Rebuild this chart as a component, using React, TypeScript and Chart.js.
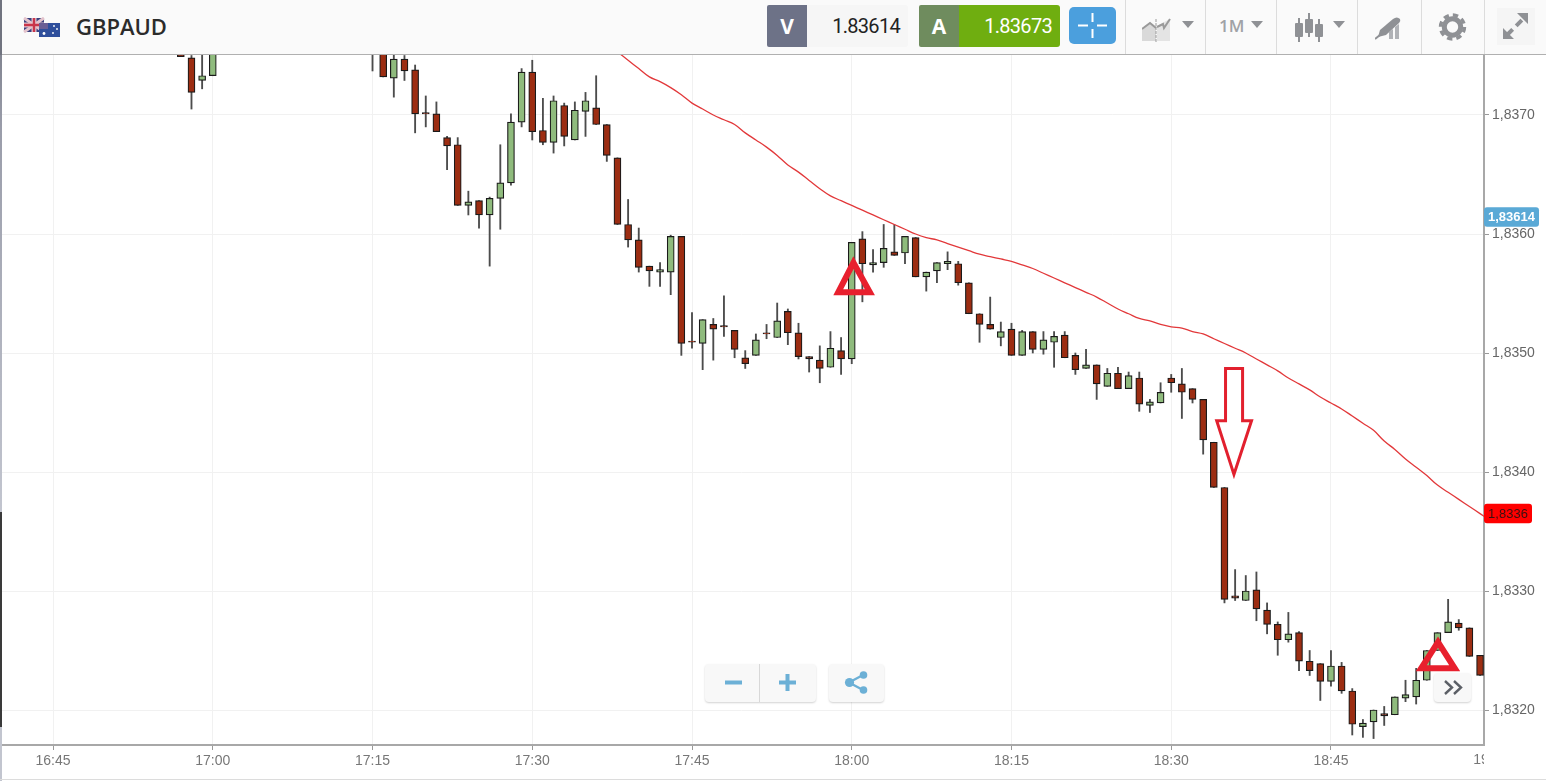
import React, { useEffect, useRef } from "react";
import { Chart, registerables } from "chart.js";

Chart.register(...registerables);

const candleTimes = [
  "16:57","16:58","16:59","17:00",
  "17:15","17:16","17:17","17:18","17:19","17:20","17:21","17:22","17:23","17:24","17:25","17:26","17:27","17:28","17:29",
  "17:30","17:31","17:32","17:33","17:34","17:35","17:36","17:37","17:38","17:39","17:40","17:41","17:42","17:43","17:44",
  "17:45","17:46","17:47","17:48","17:49","17:50","17:51","17:52","17:53","17:54","17:55","17:56","17:57","17:58","17:59",
  "18:00","18:01","18:02","18:03","18:04","18:05","18:06","18:07","18:08","18:09","18:10","18:11","18:12","18:13","18:14",
  "18:15","18:16","18:17","18:18","18:19","18:20","18:21","18:22","18:23","18:24","18:25","18:26","18:27","18:28","18:29",
  "18:30","18:31","18:32","18:33","18:34","18:35","18:36","18:37","18:38","18:39","18:40","18:41","18:42","18:43","18:44",
  "18:45","18:46","18:47","18:48","18:49","18:50","18:51","18:52","18:53","18:54","18:55","18:56","18:57","18:58","18:59",
];

const opens = [
  1.83763,1.83748,1.83729,1.83733,
  1.83771,1.83763,1.83731,1.83747,1.83738,1.83702,1.83701,1.83681,1.83675,1.83624,1.83628,1.83616,1.83630,1.83643,1.83694,
  1.83736,1.83687,1.83677,1.83708,1.83679,1.83703,1.83706,1.83692,1.83664,1.83608,1.83595,1.83573,1.83568,1.83568,1.83598,
  1.83510,1.83508,1.83524,1.83523,1.83519,1.83496,1.83498,1.83517,1.83513,1.83535,1.83517,1.83497,1.83494,1.83488,1.83502,
  1.83495,1.83596,1.83574,1.83576,1.83585,1.83584,1.83597,1.83564,1.83569,1.83575,1.83575,1.83559,1.83533,1.83524,1.83513,
  1.83520,1.83498,1.83518,1.83503,1.83509,1.83515,1.83498,1.83487,1.83490,1.83472,1.83483,1.83470,1.83479,1.83456,1.83458,
  1.83479,1.83474,1.83470,1.83461,1.83425,1.83387,1.83296,1.83292,1.83301,1.83284,1.83272,1.83259,1.83265,1.83241,1.83239,
  1.83224,1.83237,1.83216,1.83186,1.83190,1.83197,1.83196,1.83210,1.83211,1.83225,1.83250,1.83265,1.83273,1.83269,1.83246,
];
const closes = [
  1.83749,1.83719,1.83733,1.83763,
  1.83755,1.83732,1.83747,1.83737,1.83701,1.83701,1.83686,1.83674,1.83624,1.83627,1.83616,1.83630,1.83643,1.83694,1.83736,
  1.83686,1.83677,1.83712,1.83682,1.83704,1.83712,1.83692,1.83666,1.83608,1.83595,1.83572,1.83569,1.83570,1.83598,1.83508,
  1.83509,1.83528,1.83520,1.83522,1.83503,1.83491,1.83511,1.83516,1.83527,1.83517,1.83497,1.83495,1.83487,1.83504,1.83495,
  1.83593,1.83575,1.83576,1.83588,1.83582,1.83598,1.83564,1.83568,1.83576,1.83577,1.83559,1.83533,1.83524,1.83520,1.83518,
  1.83498,1.83518,1.83503,1.83511,1.83514,1.83496,1.83486,1.83490,1.83474,1.83483,1.83470,1.83481,1.83457,1.83459,1.83467,
  1.83475,1.83467,1.83461,1.83427,1.83387,1.83293,1.83294,1.83300,1.83285,1.83272,1.83259,1.83264,1.83241,1.83233,1.83224,
  1.83237,1.83216,1.83188,1.83189,1.83200,1.83195,1.83211,1.83213,1.83225,1.83250,1.83265,1.83274,1.83269,1.83245,1.83229,
];
const highs = [
  1.83767,1.83750,1.83755,1.83768,
  1.83775,1.83767,1.83755,1.83750,1.83742,1.83716,1.83711,1.83682,1.83681,1.83636,1.83628,1.83631,1.83675,1.83701,1.83739,
  1.83746,1.83714,1.83716,1.83710,1.83711,1.83719,1.83733,1.83692,1.83664,1.83629,1.83605,1.83573,1.83576,1.83599,1.83598,
  1.83534,1.83528,1.83529,1.83548,1.83519,1.83502,1.83516,1.83524,1.83542,1.83537,1.83525,1.83497,1.83506,1.83518,1.83513,
  1.83593,1.83602,1.83587,1.83608,1.83608,1.83598,1.83597,1.83568,1.83576,1.83585,1.83577,1.83559,1.83533,1.83547,1.83526,
  1.83525,1.83519,1.83518,1.83518,1.83518,1.83518,1.83500,1.83503,1.83490,1.83487,1.83488,1.83484,1.83484,1.83461,1.83475,
  1.83482,1.83487,1.83470,1.83461,1.83425,1.83387,1.83318,1.83313,1.83316,1.83290,1.83274,1.83282,1.83266,1.83250,1.83239,
  1.83250,1.83240,1.83218,1.83192,1.83200,1.83203,1.83211,1.83225,1.83235,1.83250,1.83265,1.83293,1.83276,1.83269,1.83246,
];
const lows = [
  1.83749,1.83705,1.83722,1.83733,
  1.83737,1.83732,1.83715,1.83729,1.83685,1.83690,1.83686,1.83654,1.83624,1.83616,1.83605,1.83573,1.83604,1.83641,1.83690,
  1.83679,1.83675,1.83668,1.83674,1.83679,1.83682,1.83692,1.83661,1.83608,1.83589,1.83568,1.83556,1.83556,1.83549,1.83498,
  1.83504,1.83486,1.83494,1.83514,1.83496,1.83487,1.83498,1.83512,1.83513,1.83507,1.83495,1.83484,1.83475,1.83488,1.83482,
  1.83491,1.83543,1.83568,1.83572,1.83582,1.83575,1.83564,1.83552,1.83559,1.83570,1.83557,1.83533,1.83509,1.83520,1.83506,
  1.83498,1.83498,1.83500,1.83499,1.83488,1.83496,1.83482,1.83487,1.83461,1.83472,1.83470,1.83470,1.83451,1.83450,1.83458,
  1.83467,1.83445,1.83458,1.83415,1.83387,1.83290,1.83292,1.83292,1.83275,1.83264,1.83246,1.83257,1.83233,1.83229,1.83208,
  1.83220,1.83214,1.83179,1.83177,1.83176,1.83187,1.83196,1.83207,1.83205,1.83225,1.83250,1.83265,1.83267,1.83245,1.83229,
];

// moving average: from 17:38 to 19:00
const maTimes = [...candleTimes.slice(27), "19:00"];
const maValues = [
  1.83753,1.83746,1.83739,1.83732,1.83728,1.83723,1.83717,
  1.83710,1.83705,1.83700,1.83696,1.83692,1.83685,1.83679,1.83673,1.83666,1.83658,1.83652,1.83645,1.83638,1.83632,1.83628,
  1.83624,1.83620,1.83616,1.83612,1.83608,1.83604,1.83600,1.83597,1.83595,1.83592,1.83589,1.83586,1.83583,1.83581,1.83579,
  1.83577,1.83574,1.83571,1.83567,1.83563,1.83559,1.83555,1.83551,1.83547,1.83542,1.83537,1.83533,1.83529,1.83527,1.83524,
  1.83522,1.83521,1.83518,1.83516,1.83512,1.83508,1.83504,1.83500,1.83495,1.83490,1.83485,1.83479,1.83474,1.83469,1.83463,
  1.83458,1.83453,1.83447,1.83441,1.83435,1.83426,1.83419,1.83411,1.83404,1.83397,1.83389,1.83383,1.83377,1.83371,1.83365,
  1.83359,
];

const xTickTimes = ["16:45","17:00","17:15","17:30","17:45","18:00","18:15","18:30","18:45"];
const clippedTickTime = "19:00";
const yTickValues = [1.832, 1.833, 1.834, 1.835, 1.836, 1.837];
const yTickLabels = ["1,8320","1,8330","1,8340","1,8350","1,8360","1,8370"];

const bidPrice = 1.83614;
const bidLabel = "1,83614";
const maLast = 1.83365;
const maLabel = "1,8336";

// annotations: minutes since midnight, prices
const tri1X = [1078.73, 1080.16, 1081.7, 1078.73, 1080.16];
const tri1Y = [1.83551, 1.83576, 1.83551, 1.83551, 1.83576];
const tri2X = [1133.47, 1135.05, 1136.62, 1133.47, 1135.05];
const tri2Y = [1.83235, 1.83257, 1.83235, 1.83235, 1.83257];
const arrowX = [1115.1, 1116.7, 1116.7, 1117.54, 1115.89, 1114.27, 1115.1, 1115.1, 1116.7];
const arrowY = [1.83487, 1.83487, 1.83443, 1.83443, 1.83398, 1.83443, 1.83443, 1.83487, 1.83487];

const toMin = (t: string) => {
  const [h, m] = t.split(":").map(Number);
  return h * 60 + m;
};

const FONT = "'Liberation Sans', Arial, sans-serif";

const overlayPlugin = {
  id: "overlayTags",
  afterDatasetsDraw(chart: any) {
    const { ctx, scales, chartArea } = chart;
    const x = scales.x;
    const y = scales.y;
    ctx.save();
    // clipped last time label
    ctx.save();
    ctx.beginPath();
    ctx.rect(chartArea.left, chartArea.bottom, chartArea.right - chartArea.left, 40);
    ctx.clip();
    ctx.font = "14px " + FONT;
    ctx.fillStyle = "#777";
    ctx.textAlign = "center";
    ctx.textBaseline = "top";
    ctx.fillText(clippedTickTime, x.getPixelForValue(toMin(clippedTickTime)), chartArea.bottom + 8);
    ctx.restore();

    const tag = (val: number, label: string, w: number, bg: string, fg: string, font: string) => {
      const py = y.getPixelForValue(val);
      ctx.fillStyle = bg;
      ctx.beginPath();
      ctx.roundRect(chartArea.right, py - 10, w, 19.5, 3);
      ctx.fill();
      ctx.fillStyle = fg;
      ctx.font = font;
      ctx.textAlign = "center";
      ctx.textBaseline = "middle";
      ctx.fillText(label, chartArea.right + w / 2, py + 0.5);
    };
    tag(bidPrice, bidLabel, 55, "#5aa9d6", "#fff", "bold 13px " + FONT);
    tag(maLast, maLabel, 48, "#ff0000", "#3a1010", "13px " + FONT);
    ctx.restore();
  },
};

const sep = (x: number) => (
  <div key={x} style={{ position: "absolute", left: x, top: 0, width: 1, height: 54, background: "#dcdcdc" }} />
);

const caret = (x: number, y = 21) => (
  <svg style={{ position: "absolute", left: x, top: y }} width="14" height="8">
    <path d="M1 0 L13 0 L7 7 Z" fill="#8f9195" />
  </svg>
);

function Header() {
  return (
    <div style={{ position: "absolute", left: 0, top: 0, width: 1546, height: 54, background: "#fafafa", borderBottom: "1px solid #b0b0b0", boxSizing: "content-box", fontFamily: "'Open Sans', sans-serif" }}>
      <svg style={{ position: "absolute", left: 23, top: 17 }} width="38" height="20">
        <rect x="1" y="1" width="20" height="14" fill="#39407f" />
        <path d="M1 1 L21 15 M21 1 L1 15" stroke="#e3c3cc" strokeWidth="3" />
        <path d="M11 1 V15 M1 8 H21" stroke="#e3c3cc" strokeWidth="5" />
        <path d="M11 1 V15 M1 8 H21" stroke="#c9354a" strokeWidth="2.4" />
        <rect x="16" y="6" width="21" height="14" fill="#2f4f9c" />
        <path d="M16 6 H25 V12 H16 Z" fill="#6a5f95" />
        <circle cx="21" cy="16.5" r="1.4" fill="#fff" />
        <circle cx="31" cy="9" r="0.9" fill="#fff" />
        <circle cx="34" cy="12" r="0.9" fill="#fff" />
        <circle cx="30" cy="16" r="0.9" fill="#fff" />
      </svg>
      <div style={{ position: "absolute", left: 76, top: 11, fontSize: 22, fontWeight: 600, lineHeight: "30px", color: "#2b2b2b" }}>GBPAUD</div>

      <div style={{ position: "absolute", left: 767, top: 5, width: 40, height: 42, background: "#6d7287", borderRadius: "2px 0 0 2px", color: "#fff", fontSize: 21, fontWeight: 700, lineHeight: "42px", textAlign: "center" }}>V</div>
      <div style={{ position: "absolute", left: 807, top: 5, width: 101, height: 42, background: "#f6f6f6", borderRadius: "0 3px 3px 0", color: "#222", fontFamily: "Roboto, sans-serif", fontSize: 20, letterSpacing: -0.7, lineHeight: "42px", textAlign: "right", paddingRight: 8, boxSizing: "border-box" }}>1.83614</div>

      <div style={{ position: "absolute", left: 919, top: 5, width: 40, height: 42, background: "#6f8c5e", borderRadius: "2px 0 0 2px", color: "#fff", fontSize: 21, fontWeight: 700, lineHeight: "42px", textAlign: "center" }}>A</div>
      <div style={{ position: "absolute", left: 959, top: 5, width: 101, height: 42, background: "#6fae10", borderRadius: "0 3px 3px 0", color: "#fff", fontFamily: "Roboto, sans-serif", fontSize: 20, letterSpacing: -0.7, lineHeight: "42px", textAlign: "right", paddingRight: 8, boxSizing: "border-box" }}>1.83673</div>

      <div style={{ position: "absolute", left: 1069, top: 7, width: 47, height: 37, background: "#4b9fdd", borderRadius: 5 }}>
        <svg width="47" height="37">
          <path d="M23.5 6 V15 M23.5 22 V31 M9 18.5 H19 M28 18.5 H38" stroke="#fff" strokeWidth="2" />
        </svg>
      </div>

      {[1125, 1205, 1276, 1357, 1421, 1484].map(sep)}

      <svg style={{ position: "absolute", left: 1142, top: 16 }} width="30" height="26">
        <path d="M0 25 V13 L8 6 L14 11 V25 Z" fill="#d9d9d9" />
        <path d="M15 25 V10 L22 6 L28 3 V25 Z" fill="#e4e4e4" />
        <path d="M0 13 L8 7 L14 12" stroke="#9a9a9a" strokeWidth="2" fill="none" />
        <path d="M15 11 L21 8 L22 12 L28 3" stroke="#9a9a9a" strokeWidth="2" fill="none" />
        <path d="M14 3 V26" stroke="#9a9a9a" strokeWidth="1" strokeDasharray="3 1" />
      </svg>
      {caret(1181)}
      <div style={{ position: "absolute", left: 1219, top: 12, fontSize: 17, fontWeight: 600, lineHeight: "28px", color: "#a0a2a6" }}>1M</div>
      {caret(1250)}
      <svg style={{ position: "absolute", left: 1293, top: 12 }} width="32" height="32">
        <g stroke="#8f9195" strokeWidth="2">
          <path d="M6 6 V30 M16 1 V25 M26 7 V30" />
        </g>
        <g fill="#8f9195">
          <rect x="2" y="11" width="8" height="14" rx="1" />
          <rect x="12" y="7" width="8" height="14" rx="1" />
          <rect x="22" y="12" width="8" height="13" rx="1" />
        </g>
      </svg>
      {caret(1332)}
      <svg style={{ position: "absolute", left: 1375, top: 16 }} width="29" height="24">
        <path d="M14 23 V16 L18 13 V23 Z M20 23 V11 L24 8 V23 Z" fill="#b0b2b6" />
        <path d="M5 14 L18 3 Q22 0 25 3 Q26 5 24 7 L11 19 L3 21 Z" fill="#8f9195" />
        <path d="M0 23 L5 19" stroke="#8f9195" strokeWidth="2" />
      </svg>
      <svg style={{ position: "absolute", left: 1438, top: 13 }} width="29" height="28" viewBox="0 0 29 28">
        <circle cx="14.5" cy="14" r="8.2" fill="none" stroke="#8f9195" strokeWidth="5" />
        <circle cx="14.5" cy="14" r="12" fill="none" stroke="#8f9195" strokeWidth="3.4" strokeDasharray="5.4 4.02" />
      </svg>
      <div style={{ position: "absolute", left: 1497, top: 8, width: 38, height: 37, background: "#f5f5f5" }}>
        <svg width="38" height="37">
          <path d="M10 27 L27 10" stroke="#8f9195" strokeWidth="4" strokeDasharray="8 5 8" />
          <path d="M20 5 H31 V16 Z M6 20 V31 H17 Z" fill="#8f9195" />
        </svg>
      </div>
    </div>
  );
}

const btn: React.CSSProperties = { position: "absolute", background: "#f8f8f8", borderRadius: 4, boxShadow: "0 1px 2px rgba(0,0,0,.18)" };

function FloatingButtons() {
  return (
    <>
      <div style={{ ...btn, left: 705, top: 664, width: 111, height: 38 }}>
        <div style={{ position: "absolute", left: 54, top: 0, width: 1, height: 38, background: "#d8d8d8" }} />
        <svg width="111" height="38" style={{ position: "absolute", left: 0, top: 0 }}>
          <path d="M20 18.5 H37 M74 18.5 H91 M82.5 10 V27" stroke="#6cb0d6" strokeWidth="4" />
        </svg>
      </div>
      <div style={{ ...btn, left: 829, top: 664, width: 55, height: 38 }}>
        <svg width="55" height="38">
          <path d="M20 18.5 L34 11 M20 18.5 L34 26" stroke="#6cb0d6" strokeWidth="2.4" />
          <circle cx="20.5" cy="18.5" r="4.6" fill="#6cb0d6" />
          <circle cx="34.5" cy="11" r="3.8" fill="#6cb0d6" />
          <circle cx="34.5" cy="26" r="3.8" fill="#6cb0d6" />
        </svg>
      </div>
      <div style={{ ...btn, left: 1434, top: 673, width: 37, height: 29 }}>
        <svg width="37" height="29">
          <path d="M11 8 L18 14.5 L11 21 M20 8 L27 14.5 L20 21" stroke="#5b5f66" strokeWidth="2.4" fill="none" />
        </svg>
      </div>
    </>
  );
}

export default function App() {
  const ref = useRef<HTMLCanvasElement | null>(null);

  useEffect(() => {
    if (!ref.current) return;
    const wicks = candleTimes.map((t, i) => ({ x: toMin(t), y: [lows[i], highs[i]] }));
    const bodies = candleTimes.map((t, i) => ({ x: toMin(t), y: [opens[i], closes[i]] }));
    const bodyColors = candleTimes.map((_, i) => (closes[i] >= opens[i] ? "#8fbb7d" : "#9c2d12"));
    const zip = (xs: number[], ys: number[]) => xs.map((x, i) => ({ x, y: ys[i] }));

    const chart = new Chart(ref.current, {
      type: "bar",
      data: {
        datasets: [
          { type: "bar", data: wicks, backgroundColor: "#4c4c4c", borderWidth: 0, barThickness: 1.2, grouped: false, order: 5 } as any,
          { type: "bar", data: bodies, backgroundColor: bodyColors, borderColor: "#1a1a1a", borderWidth: 1.2, borderSkipped: false, barThickness: 7, grouped: false, order: 4 } as any,
          { type: "line", data: maTimes.map((t, i) => ({ x: toMin(t), y: maValues[i] })), borderColor: "#e2383a", borderWidth: 1.3, pointRadius: 0, tension: 0.4, order: 3 } as any,
          { type: "line", data: zip(tri1X, tri1Y), borderColor: "#e8202e", borderWidth: 6, borderJoinStyle: "miter", pointRadius: 0, tension: 0, order: 1 } as any,
          { type: "line", data: zip(tri2X, tri2Y), borderColor: "#e8202e", borderWidth: 6, borderJoinStyle: "miter", pointRadius: 0, tension: 0, order: 1 } as any,
          { type: "line", data: zip(arrowX, arrowY), borderColor: "#e2202e", borderWidth: 3, borderJoinStyle: "miter", pointRadius: 0, tension: 0, order: 1 } as any,
        ],
      },
      options: {
        animation: false,
        responsive: false,
        events: [],
        layout: { padding: { top: 54, left: 0, right: 0, bottom: 0 } },
        plugins: { legend: { display: false }, tooltip: { enabled: false } },
        scales: {
          x: {
            type: "linear",
            offset: false,
            min: 1000.02,
            max: 1139.37,
            afterBuildTicks: (s: any) => { s.ticks = xTickTimes.map((t) => ({ value: toMin(t) })); },
            afterFit: (s: any) => { s.height = 36; },
            grid: { color: "#f1f1f1", lineWidth: 1, offset: false, tickColor: "#999", tickLength: 5, drawOnChartArea: true },
            border: { color: "#a8a8a8", width: 2 },
            ticks: {
              autoSkip: false, maxRotation: 0, padding: 3, color: "#777",
              font: { family: FONT, size: 14 },
              callback: (v: any) => {
                const i = xTickTimes.findIndex((t) => toMin(t) === v);
                return i >= 0 ? xTickTimes[i] : "";
              },
            },
          },
          y: {
            type: "linear",
            position: "right",
            min: 1.8317059,
            max: 1.8375126,
            afterBuildTicks: (s: any) => { s.ticks = yTickValues.map((v) => ({ value: v })); },
            afterFit: (s: any) => { s.width = 62; },
            grid: { color: "#f1f1f1", lineWidth: 1, tickColor: "#999", tickLength: 5 },
            border: { color: "#a8a8a8", width: 2 },
            ticks: {
              autoSkip: false, padding: 3, color: "#666",
              font: { family: FONT, size: 14 },
              callback: (v: any) => {
                const i = yTickValues.indexOf(v);
                return i >= 0 ? yTickLabels[i] : "";
              },
            },
          },
        },
      },
      plugins: [overlayPlugin],
    } as any);
    return () => chart.destroy();
  }, []);

  return (
    <div style={{ position: "fixed", left: 0, top: 0, width: 1546, height: 781, overflow: "hidden", background: "#fff" }}>
      <canvas ref={ref} width={1546} height={781} style={{ position: "absolute", left: 0, top: 0, display: "block" }} />
      <div style={{ position: "absolute", left: 0, top: 0, width: 2, height: 512, background: "linear-gradient(#70737f 0%, #9a9daa 25%, #c2c5cf 100%)" }} />
      <div style={{ position: "absolute", left: 0, top: 512, width: 2, height: 215, background: "#3a3a3a" }} />
      <div style={{ position: "absolute", left: 0, top: 727, width: 2, height: 54, background: "#c2c5cf" }} />
      <div style={{ position: "absolute", left: 0, top: 779, width: 1546, height: 1, background: "#dcdcdc" }} />
      <Header />
      <div style={{ position: "absolute", left: 0, top: 0, width: 2, height: 55, background: "#70737f" }} />
      <FloatingButtons />
    </div>
  );
}
